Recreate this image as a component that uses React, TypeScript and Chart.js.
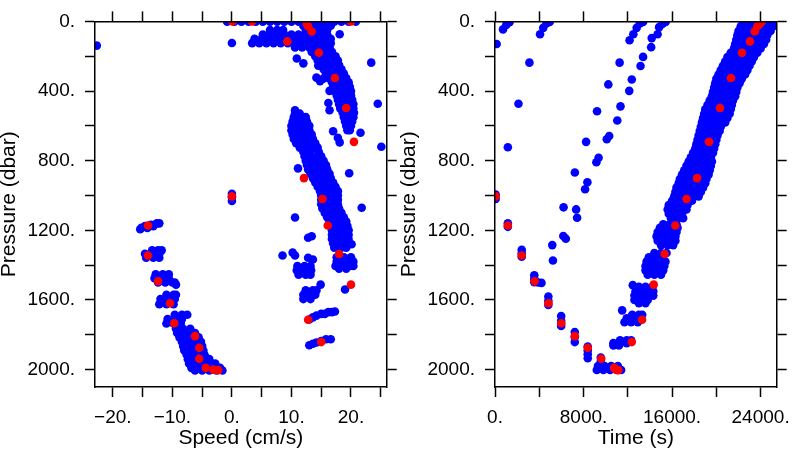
import React, { useEffect, useRef } from 'react';
import { Chart, registerables } from 'chart.js';

Chart.register(...registerables);

// ---------------- axes ----------------
const pressureRange = [0, 2100];
const pressureTicks = [0, 200, 400, 600, 800, 1000, 1200, 1400, 1600, 1800, 2000];
const pressureTickLabels = ['0.', '', '400.', '', '800.', '', '1200.', '', '1600.', '', '2000.'];
const speedRange = [-23, 26];
const speedTicks = [-20, -15, -10, -5, 0, 5, 10, 15, 20, 25];
const speedTickLabels = ['\u221220.', '', '\u221210.', '', '0.', '', '10.', '', '20.', ''];
const timeRange = [0, 25450];
const timeTicks = [0, 4000, 8000, 12000, 16000, 20000, 24000];
const timeTickLabels = ['0.', '', '8000.', '', '16000.', '', '24000.'];

// ---------------- speed panel (rows: [pressure, speed, speed, ...]) ----------------
const speedUpperArm: number[][] = [
  [2, -0.8, 0.4, 1.6, 2.8, 4.0, 5.2, 6.4, 7.6, 8.8, 10.0, 11.2, 12.4, 13.6, 14.8, 16.0, 17.2, 18.4, 19.6, 20.8],
  [25, 12.0, 13.2, 14.4, 15.6, 16.6],
  [50, 6.4, 7.6, 8.6, 12.4, 13.6, 14.8, 16.0],
  [75, 5.2, 6.4, 7.6, 8.8, 10.0, 11.2, 12.4, 13.6, 14.8, 16.0],
  [100, 3.8, 5.0, 6.2, 7.4, 8.6, 9.8, 11.0, 12.2, 13.4, 14.6, 15.8, 16.6],
  [125, 3.4, 4.6, 5.8, 7.0, 8.2, 9.4, 10.6, 11.8, 13.0, 14.2, 15.4, 16.6],
  [150, 10.6, 11.8, 13.0, 14.2, 15.4, 16.4],
  [175, 13.4, 14.6, 15.8, 16.8],
  [200, 14.0, 15.2, 16.4, 17.4],
  [225, 14.4, 15.6, 16.8, 17.8],
  [250, 15.0, 16.2, 17.4, 18.0],
  [275, 15.4, 16.6, 17.8, 18.4],
  [300, 15.8, 17.0, 18.2, 18.8],
  [325, 16.2, 17.4, 18.6, 19.2],
  [350, 16.8, 18.0, 19.2, 19.6],
  [375, 17.0, 18.2, 19.4, 19.8],
  [400, 17.2, 18.4, 19.6, 20.0],
  [425, 17.6, 18.8, 20.0],
  [450, 17.8, 19.0, 20.2],
  [475, 18.0, 19.2, 20.4],
  [500, 18.2, 19.4, 20.4],
  [525, 18.6, 19.8, 20.5],
  [550, 18.8, 20.0, 20.4],
  [575, 19.0, 20.2],
  [600, 19.2, 20.0],
  [625, 19.4, 19.8],
];

const speedMidBand: number[][] = [
  [510, 10.6],
  [530, 10.6, 11.4],
  [550, 10.4, 11.6, 12.4],
  [575, 10.2, 11.4, 12.6],
  [600, 10.0, 11.2, 12.4, 13.0],
  [625, 10.0, 11.2, 12.4, 13.0],
  [650, 10.2, 11.4, 12.6, 13.4],
  [675, 10.4, 11.6, 12.8, 13.6],
  [700, 10.8, 12.0, 13.2, 14.0],
  [725, 11.4, 12.6, 13.8, 14.4],
  [750, 12.0, 13.2, 14.6],
  [775, 12.2, 13.4, 14.6, 15.0],
  [800, 12.4, 13.6, 14.8, 15.4],
  [825, 12.6, 13.8, 15.0, 15.8],
  [850, 12.8, 14.0, 15.2, 16.0],
  [875, 13.2, 14.4, 15.6, 16.4],
  [900, 13.6, 14.8, 16.0, 16.6],
  [925, 14.0, 15.2, 16.4, 17.0],
  [950, 14.4, 15.6, 16.8, 17.4],
  [975, 14.8, 16.0, 17.2, 17.8],
  [1000, 15.0, 16.2, 17.4, 17.8],
  [1025, 15.0, 16.2, 17.4, 17.8],
  [1050, 15.0, 16.2, 17.4, 17.8],
  [1075, 15.2, 16.4, 17.6, 18.0],
  [1100, 15.6, 16.8, 18.0, 18.4],
  [1125, 16.0, 17.2, 18.4, 18.8],
  [1150, 16.4, 17.6, 18.8, 19.2],
  [1175, 16.8, 18.0, 19.2, 19.4],
  [1200, 16.8, 18.0, 19.2, 19.6],
  [1225, 16.8, 18.0, 19.2, 19.6],
  [1250, 16.8, 18.0, 19.2, 19.6],
  [1275, 17.0, 18.2, 19.4],
  [1300, 17.2, 18.4, 19.2],
  [1355, 17.6, 18.8, 20.0],
  [1380, 17.6, 18.8, 20.0, 20.4],
  [1405, 17.4, 18.6, 19.8, 20.4],
  [1420, 18.0, 19.2],
];

const speedLowerRight: number[][] = [
  [1405, 11.0, 12.2, 13.2],
  [1430, 10.9, 12.1, 13.3],
  [1455, 11.2, 12.4, 13.2],
  [1545, 12.4, 13.6, 14.2],
  [1570, 12.0, 13.2, 14.0],
  [1595, 12.0, 13.2],
  [1670, 16.2, 16.8],
  [1680, 15.0, 15.6],
  [1690, 14.2],
  [1700, 13.6],
  [1712, 13.0],
  [1826, 15.8, 16.6],
  [1836, 15.0],
  [1844, 14.2],
  [1852, 13.6],
  [1860, 13.0],
];

const speedLeftClusters: number[][] = [
  [1160, -12.6, -12.2],
  [1168, -13.6],
  [1176, -14.6, -13.2],
  [1186, -15.2, -14.2],
  [1194, -15.4],
  [1315, -13.4, -12.4, -11.8],
  [1335, -14.6, -13.4, -12.2],
  [1358, -14.4, -13.2, -12.2],
  [1452, -12.8, -11.6, -10.6],
  [1475, -13.0, -11.8, -10.6],
  [1500, -12.4, -11.2, -10.0, -9.6],
  [1570, -11.0, -9.8, -9.4],
  [1595, -12.0, -10.8, -9.6],
  [1625, -12.2, -11.0, -9.8],
  [1685, -9.6, -8.4, -7.5],
  [1710, -10.8, -9.6, -8.4],
  [1735, -11.0, -9.8, -8.6],
  [1765, -9.4, -8.2, -7.0],
  [1790, -9.2, -8.0, -6.8, -6.2],
  [1815, -8.8, -7.6, -6.4, -5.6],
  [1840, -8.4, -7.2, -6.0, -5.2],
  [1865, -8.2, -7.0, -5.8, -5.0],
  [1890, -8.0, -6.8, -5.6, -4.8],
  [1915, -7.6, -6.4, -5.2, -4.6],
  [1940, -7.4, -6.2, -5.0, -3.8],
  [1965, -7.2, -6.0, -4.8, -3.6, -2.8],
  [1990, -6.8, -5.6, -4.4, -3.2, -2.0],
  [2005, -6.2, -5.0, -3.8, -2.6, -1.6],
];

// isolated samples: [speed, pressure]
const speedOutliers: number[][] = [
  [10.9, 213], [12.0, 241], [14.5, 254], [14.2, 323], [15.3, 330], [14.8, 343],
  [16.4, 399], [16.2, 469], [16.4, 510], [17.0, 631], [17.8, 668], [18.1, 695],
  [21.6, 640], [23.4, 237], [24.5, 473], [25.1, 720], [0.0, 124], [-22.7, 139],
  [18.1, 74], [19.7, 872], [21.8, 1070], [11.1, 844], [10.6, 1126], [0.0, 990],
  [0.0, 1010], [0.0, 1032], [12.8, 1243], [13.4, 1234], [8.5, 1345], [10.2, 1328],
  [10.6, 1345], [12.8, 1358], [13.6, 1368], [14.9, 1512], [19.0, 1540], [20.1, 1280],
  [17.3, 1666], [-9.4, 1512],
];

// ---------------- time panel (rows: [pressure, time, time, ...]) ----------------
const timeAscentBand: number[][] = [
  [5, 22400, 23000, 23600, 24200, 24800, 25300],
  [30, 22200, 22800, 23400, 24000, 24600, 25100],
  [55, 22000, 22600, 23200, 23800, 24400, 24900],
  [80, 21900, 22500, 23100, 23700, 24300, 24600],
  [105, 21800, 22400, 23000, 23600, 24200, 24500],
  [130, 21700, 22300, 22900, 23500, 24100, 24300],
  [155, 21600, 22200, 22800, 23400, 24000],
  [180, 21300, 21900, 22500, 23100, 23700],
  [205, 21000, 21600, 22200, 22800, 23400],
  [230, 20800, 21400, 22000, 22600, 23200],
  [255, 20600, 21200, 21800, 22400, 23000],
  [280, 20400, 21000, 21600, 22200, 22800],
  [305, 20200, 20800, 21400, 22000, 22600],
  [330, 20000, 20600, 21200, 21800, 22300],
  [355, 19900, 20500, 21100, 21700, 22100],
  [380, 19800, 20400, 21000, 21600, 21900],
  [405, 19700, 20300, 20900, 21500, 21800],
  [430, 19600, 20200, 20800, 21400, 21700],
  [455, 19400, 20000, 20600, 21200, 21500],
  [480, 19200, 19800, 20400, 21000, 21400],
  [505, 19000, 19600, 20200, 20800, 21300],
  [530, 18900, 19500, 20100, 20700, 21200],
  [555, 18800, 19400, 20000, 20600, 21000],
  [580, 18700, 19300, 19900, 20500, 20800],
  [605, 18600, 19200, 19800, 20400],
  [630, 18500, 19100, 19700, 20300],
  [655, 18400, 19000, 19600, 20100],
  [680, 18300, 18900, 19500, 20000],
  [705, 18200, 18800, 19400, 19900],
  [730, 18100, 18700, 19300, 19800],
  [755, 17900, 18500, 19100, 19700],
  [780, 17700, 18300, 18900, 19500],
  [805, 17500, 18100, 18700, 19300, 19600],
  [830, 17300, 17900, 18500, 19100, 19500],
  [855, 17100, 17700, 18300, 18900, 19400],
  [880, 16900, 17500, 18100, 18700, 19300],
  [905, 16700, 17300, 17900, 18500, 19100],
  [930, 16600, 17200, 17800, 18400, 19000],
  [955, 16400, 17000, 17600, 18200, 18800],
  [980, 16300, 16900, 17500, 18100, 18600],
  [1005, 16200, 16800, 17400, 18000, 18400],
  [1030, 16000, 16600, 17200, 17800],
  [1055, 15700, 16300, 16900, 17400],
  [1080, 15600, 16200, 16800, 17300],
  [1105, 15700, 16300, 16900],
  [1130, 15900, 16500, 17000],
];

const timeAscentBlobs: number[][] = [
  [1165, 15200, 15800, 16400],
  [1185, 14900, 15500, 16100, 16500],
  [1210, 14700, 15300, 15900, 16400],
  [1235, 14600, 15200, 15800, 16300],
  [1260, 14700, 15300, 15900, 16300],
  [1285, 15000, 15600, 16100],
  [1330, 14400, 15000, 15500],
  [1355, 13900, 14500, 15100],
  [1380, 13700, 14300, 14900, 15400],
  [1405, 13600, 14200, 14800, 15300],
  [1430, 13600, 14200, 14800, 15200],
  [1455, 13800, 14400, 15000],
  [1525, 13000, 13600, 14200],
  [1550, 12700, 13300, 13900, 14300],
  [1575, 12600, 13200, 13800, 14300],
  [1600, 12600, 13200, 13800],
  [1618, 13000, 13600],
  [1685, 12400, 13000, 13300],
  [1705, 11900, 12500, 13100],
  [1728, 11700, 12300, 12900],
  [1832, 11300, 11900, 12300],
  [1848, 10700, 11300, 11900],
  [1862, 10700, 11200],
  [1980, 9300, 9900, 10500, 11100],
  [2002, 9200, 9800, 10400, 11000, 11400],
];

const timeDescentSteps: number[][] = [
  [1160, 1160], [1160, 1180],
  [2415, 1312], [2415, 1332], [2415, 1352],
  [3550, 1458], [3550, 1478], [3550, 1498], [3900, 1500], [4200, 1502],
  [4820, 1580], [4820, 1605], [4820, 1629],
  [5980, 1692], [5980, 1720], [5980, 1749],
  [7210, 1784], [7210, 1813], [7210, 1842],
  [8380, 1868], [8380, 1890], [8380, 1912], [8380, 1935],
  [9560, 1931], [9560, 1953],
  [60, 995], [60, 1020],
];

// isolated samples: [time, pressure]
const timeOutliers: number[][] = [
  [150, 130], [727, 46], [1020, 20], [1310, 5], [1160, 723], [2120, 473], [3110, 237],
  [4070, 74], [4360, 37], [4650, 12], [4940, 3],
  [5175, 1285], [5235, 1373], [6170, 1233], [6400, 1248],
  [6195, 1068], [7330, 1080], [7420, 1128], [7215, 868], [8140, 964], [8350, 924],
  [8230, 692], [9160, 809], [9360, 783], [9220, 516], [10100, 677], [10320, 658],
  [10240, 362], [11050, 569], [11340, 488], [11260, 237], [12130, 399], [12360, 334],
  [12160, 108], [12500, 74], [12800, 37], [13090, 12], [13380, 3],
  [13150, 256], [13380, 204], [14110, 148], [14160, 96], [14690, 74], [14830, 33],
  [15120, 15], [15420, 3], [11490, 1660], [12450, 1515],
];

// ---------------- highlighted (red) samples ----------------
const redPressure = [0, 0, 0, 15, 28, 58, 115, 180, 325, 497, 692, 900, 1020, 1172, 1336, 1512, 1714, 1842,
  1005, 1172, 1345, 1493, 1619, 1734, 1808, 1875, 1938, 1990, 2000, 2003];
const redSpeed = [0.1, 3.4, 20.0, 12.6, 12.8, 13.4, 9.3, 14.6, 17.3, 19.2, 20.5, 12.1, 15.2, 16.1, 18.0, 20.0, 12.8, 15.0,
  0.0, -14.1, -14.1, -12.4, -10.4, -9.7, -6.2, -5.5, -5.5, -4.4, -3.1, -2.3];
const redTime = [24060, 24080, 24100, 23910, 23710, 23470, 23040, 22310, 21320, 20330, 19340, 18260, 17300, 16290, 15330, 14340, 13290, 12360,
  60, 1160, 2415, 3580, 4830, 5990, 7210, 8380, 9600, 10760, 10950, 11140];

// ---------------- helpers ----------------
const FONT = "'Liberation Sans', Arial, Helvetica, sans-serif";

const fromRows = (rows: number[][]) =>
  rows.flatMap(([p, ...vals]) => vals.map((v) => ({ x: v, y: p })));
const fromPairs = (pairs: number[][]) => pairs.map(([v, p]) => ({ x: v, y: p }));

function axis(position: string, range: number[], ticks: number[], labels: string[] | null, size: number, extra: any = {}) {
  const vertical = position === 'left' || position === 'right';
  return {
    type: 'linear',
    position,
    min: range[0],
    max: range[1],
    afterBuildTicks: (s: any) => {
      s.ticks = ticks.map((v) => ({ value: v }));
    },
    afterFit: (s: any) => {
      if (vertical) s.width = size;
      else s.height = size;
    },
    ticks: {
      display: labels !== null,
      autoSkip: false,
      maxRotation: 0,
      minRotation: 0,
      padding: vertical ? 10 : 9,
      color: '#000',
      font: { family: FONT, size: 19 },
      callback: (_v: any, i: number) => (labels ? labels[i] : ''),
    },
    grid: {
      drawOnChartArea: false,
      drawTicks: true,
      tickLength: 10,
      tickColor: '#000',
      tickWidth: 1.5,
    },
    border: { display: true, color: '#000', width: 1.5, z: 1 },
    ...extra,
  };
}

function buildConfig(kind: 'speed' | 'time'): any {
  const isSpeed = kind === 'speed';
  const xRange = isSpeed ? speedRange : timeRange;
  const xTicks = isSpeed ? speedTicks : timeTicks;
  const xLabels = isSpeed ? speedTickLabels : timeTickLabels;
  const blue = isSpeed
    ? [
        ...fromRows(speedUpperArm),
        ...fromRows(speedMidBand),
        ...fromRows(speedLowerRight),
        ...fromRows(speedLeftClusters),
        ...fromPairs(speedOutliers),
      ]
    : [
        ...fromRows(timeAscentBand),
        ...fromRows(timeAscentBlobs),
        ...fromPairs(timeDescentSteps),
        ...fromPairs(timeOutliers),
      ];
  const redX = isSpeed ? redSpeed : redTime;
  const red = redPressure.map((p, i) => ({ x: redX[i], y: p }));

  return {
    type: 'scatter',
    data: {
      datasets: [
        {
          data: red,
          backgroundColor: '#ff0000',
          borderWidth: 0,
          pointRadius: 4.3,
          pointHoverRadius: 4.3,
          clip: 0,
        },
        {
          data: blue,
          backgroundColor: '#0000ff',
          borderWidth: 0,
          pointRadius: 4.3,
          pointHoverRadius: 4.3,
          clip: 0,
        },
      ],
    },
    options: {
      animation: false,
      responsive: false,
      devicePixelRatio: 1,
      events: [],
      layout: { padding: { left: 0, right: 3.3, top: 0, bottom: 0 } },
      plugins: { legend: { display: false }, tooltip: { enabled: false } },
      scales: {
        x: axis('bottom', xRange, xTicks, xLabels, 63, {
          title: {
            display: true,
            text: isSpeed ? 'Speed (cm/s)' : 'Time (s)',
            color: '#000',
            font: { family: FONT, size: 21, lineHeight: 1.1 },
            padding: 0,
          },
        }),
        x2: axis('top', xRange, xTicks, null, 10),
        y: axis('left', pressureRange, pressureTicks, pressureTickLabels, 95, {
          reverse: true,
          title: {
            display: true,
            text: 'Pressure (dbar)',
            color: '#000',
            font: { family: FONT, size: 21, lineHeight: 0.9 },
            padding: 0,
          },
        }),
        y2: axis('right', pressureRange, pressureTicks, null, 10, { reverse: true }),
      },
    },
  };
}

function Panel({ kind }: { kind: 'speed' | 'time' }) {
  const ref = useRef<HTMLCanvasElement | null>(null);
  useEffect(() => {
    if (!ref.current) return;
    const chart = new Chart(ref.current, buildConfig(kind));
    return () => chart.destroy();
  }, [kind]);
  return (
    <canvas
      ref={ref}
      width={400}
      height={450}
      style={{ display: 'block', width: 400, height: 450 }}
    />
  );
}

export default function App() {
  return (
    <div
      style={{
        position: 'fixed',
        left: 0,
        top: 0,
        width: 800,
        height: 450,
        display: 'flex',
        background: '#fff',
      }}
    >
      <Panel kind="speed" />
      <Panel kind="time" />
    </div>
  );
}
